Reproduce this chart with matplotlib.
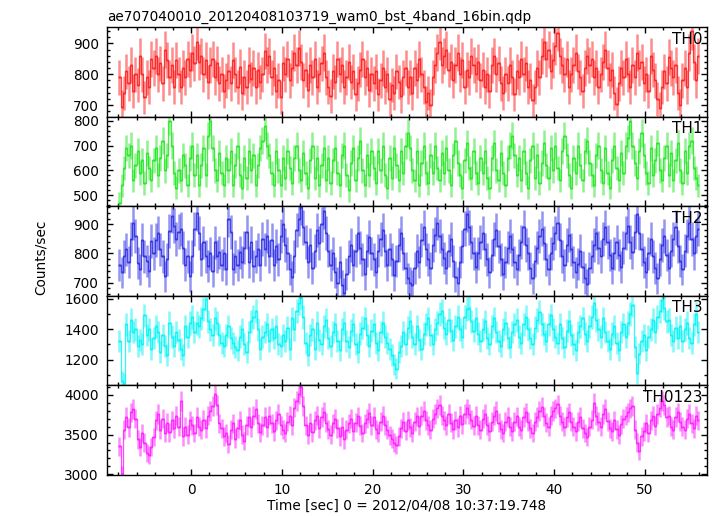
import numpy as np
import matplotlib
matplotlib.use("Agg")
import matplotlib.pyplot as plt
from matplotlib.ticker import MultipleLocator

title = "ae707040010_20120408103719_wam0_bst_4band_16bin.qdp"
xlabel = "Time [sec] 0 = 2012/04/08 10:37:19.748"
ylabel = "Counts/sec"
band_names = ["TH0", "TH1", "TH2", "TH3", "TH0123"]
band_colors = ["#ff1a1a", "#1ee61e", "#2a2ae6", "#00f5f5", "#ff1aff"]

time_start = -7.875
bin_width = 0.25

th0 = [
    790, 695, 740, 810, 770, 830, 745, 800, 765, 860, 800, 725, 790, 760, 850, 820,
    860, 800, 835, 770, 880, 845, 790, 830, 760, 845, 800, 760, 820, 790, 850, 815,
    870, 835, 905, 840, 860, 800, 845, 775, 830, 850, 790, 835, 770, 800, 745, 780,
    810, 770, 845, 800, 760, 825, 740, 790, 760, 830, 785, 820, 760, 815, 775, 800,
    875, 830, 860, 790, 820, 745, 780, 725, 835, 800, 850, 780, 820, 870, 830, 885,
    840, 780, 815, 750, 830, 790, 850, 760, 800, 835, 870, 790, 760, 730, 810, 775,
    850, 800, 830, 760, 790, 840, 775, 810, 735, 770, 815, 850, 790, 820, 750, 800,
    770, 810, 735, 780, 820, 760, 800, 720, 765, 740, 810, 775, 730, 790, 820, 760,
    790, 740, 820, 780, 850, 800, 760, 710, 740, 700, 790, 830, 870, 905, 830, 860,
    880, 815, 840, 780, 830, 870, 800, 845, 760, 815, 790, 860, 830, 800, 840, 780,
    815, 760, 800, 745, 830, 860, 800, 835, 770, 740, 800, 770, 830, 790, 735, 810,
    790, 850, 800, 835, 760, 780, 715, 760, 820, 790, 860, 905, 850, 880, 810, 845,
    890, 935, 860, 830, 800, 850, 760, 800, 830, 870, 810, 790, 745, 820, 860, 830,
    850, 790, 820, 760, 800, 840, 880, 820, 780, 815, 740, 705, 770, 820, 790, 850,
    800, 760, 830, 790, 870, 820, 840, 770, 800, 745, 860, 815, 780, 720, 690, 760,
    810, 770, 855, 820, 790, 830, 740, 700, 780, 820, 760, 870, 940, 840, 780, 860,
]

th1 = [
    470, 540, 610, 690, 660, 700, 560, 620, 680, 590, 640, 550, 670, 610, 560, 640,
    690, 580, 650, 720, 600, 660, 800, 700, 590, 530, 600, 560, 660, 620, 540, 650,
    700, 580, 660, 540, 620, 690, 580, 740, 800, 690, 600, 560, 670, 590, 540, 650,
    600, 680, 540, 620, 700, 580, 530, 650, 570, 680, 600, 660, 540, 620, 690, 720,
    780, 700, 660, 590, 540, 680, 600, 540, 650, 570, 680, 610, 550, 650, 700, 600,
    560, 670, 590, 530, 640, 700, 570, 650, 540, 620, 690, 560, 650, 550, 640, 690,
    590, 540, 660, 700, 580, 520, 630, 690, 560, 650, 720, 600, 540, 660, 580, 680,
    610, 550, 680, 600, 700, 580, 530, 650, 570, 690, 620, 560, 680, 590, 700, 750,
    690, 600, 560, 680, 540, 630, 700, 590, 550, 660, 590, 700, 610, 560, 670, 590,
    690, 600, 540, 660, 720, 630, 580, 530, 640, 710, 610, 570, 680, 590, 550, 650,
    590, 680, 570, 530, 650, 710, 600, 560, 670, 590, 540, 650, 700, 740, 660, 580,
    650, 560, 680, 590, 530, 640, 700, 570, 660, 550, 630, 710, 620, 570, 690, 600,
    700, 610, 560, 680, 740, 660, 580, 530, 650, 590, 700, 620, 560, 680, 720, 630,
    580, 540, 660, 700, 600, 550, 690, 590, 530, 640, 700, 610, 560, 670, 590, 700,
    730, 800, 700, 630, 570, 680, 750, 660, 590, 550, 690, 580, 640, 710, 600, 560,
    650, 700, 580, 670, 560, 640, 710, 600, 550, 680, 590, 700, 720, 610, 570, 540,
]

th2 = [
    760, 735, 790, 814, 770, 850, 906, 860, 767, 745, 848, 790, 775, 740, 843, 800,
    845, 870, 815, 790, 722, 780, 877, 930, 896, 850, 875, 884, 820, 762, 790, 722,
    790, 884, 940, 870, 780, 838, 790, 756, 800, 740, 838, 790, 804, 760, 800, 747,
    918, 873, 747, 790, 760, 805, 770, 820, 873, 770, 838, 756, 790, 814, 760, 850,
    814, 860, 790, 845, 760, 826, 780, 860, 900, 830, 800, 745, 720, 790, 880, 920,
    960, 890, 840, 770, 830, 750, 810, 880, 835, 900, 945, 870, 810, 760, 800, 735,
    700, 770, 690, 665, 730, 790, 830, 760, 810, 870, 820, 780, 730, 810, 855, 800,
    780, 735, 810, 850, 880, 810, 760, 815, 780, 725, 775, 830, 870, 800, 750, 715,
    700, 690, 750, 810, 770, 845, 890, 815, 780, 750, 830, 865, 905, 860, 815, 785,
    750, 810, 850, 775, 720, 700, 770, 825, 885, 935, 890, 840, 800, 755, 800, 840,
    870, 815, 780, 735, 795, 850, 880, 825, 780, 730, 770, 820, 860, 815, 770, 745,
    795, 840, 890, 830, 800, 750, 715, 775, 820, 860, 885, 835, 780, 745, 800, 835,
    870, 905, 845, 790, 760, 830, 865, 815, 770, 735, 765, 810, 755, 715, 695, 750,
    790, 830, 870, 820, 790, 850, 890, 840, 795, 750, 800, 840, 795, 755, 820, 870,
    895, 840, 805, 875, 935, 870, 815, 770, 735, 800, 850, 790, 750, 715, 780, 830,
    860, 795, 750, 810, 850, 890, 825, 775, 745, 810, 860, 905, 850, 800, 860, 885,
]

th3 = [
    1324, 1060, 1050, 1430, 1320, 1460, 1380, 1400, 1290, 1330, 1300, 1490, 1360, 1400, 1270, 1340,
    1420, 1380, 1250, 1360, 1290, 1230, 1440, 1350, 1290, 1380, 1330, 1270, 1230, 1420, 1350, 1440,
    1480, 1380, 1440, 1420, 1470, 1530, 1600, 1450, 1400, 1360, 1470, 1440, 1360, 1310, 1290, 1360,
    1420, 1340, 1310, 1280, 1260, 1350, 1400, 1300, 1250, 1380, 1450, 1480, 1520, 1400, 1270, 1350,
    1380, 1430, 1320, 1400, 1340, 1420, 1300, 1290, 1360, 1320, 1410, 1270, 1470, 1400, 1520, 1570,
    1610, 1480, 1310, 1230, 1360, 1400, 1270, 1440, 1330, 1300, 1420, 1460, 1340, 1290, 1380, 1430,
    1320, 1260, 1400, 1440, 1320, 1280, 1390, 1430, 1300, 1250, 1370, 1410, 1470, 1360, 1290, 1390,
    1430, 1310, 1260, 1380, 1440, 1350, 1310, 1270, 1230, 1170, 1140, 1250, 1290, 1380, 1300, 1410,
    1450, 1350, 1300, 1420, 1330, 1270, 1370, 1430, 1470, 1360, 1300, 1400, 1440, 1500, 1520, 1410,
    1370, 1460, 1390, 1330, 1420, 1480, 1400, 1350, 1480, 1530, 1540, 1450, 1390, 1470, 1370, 1320,
    1400, 1450, 1340, 1300, 1420, 1470, 1380, 1320, 1290, 1400, 1440, 1340, 1280, 1380, 1430, 1460,
    1350, 1310, 1430, 1480, 1400, 1340, 1300, 1410, 1460, 1510, 1430, 1370, 1320, 1430, 1490, 1400,
    1350, 1310, 1430, 1340, 1280, 1390, 1450, 1360, 1300, 1260, 1380, 1420, 1470, 1370, 1320, 1420,
    1480, 1570, 1460, 1400, 1350, 1470, 1380, 1320, 1270, 1370, 1420, 1310, 1260, 1380, 1430, 1350,
    1440, 1500, 1560, 1280, 1110, 1240, 1320, 1360, 1260, 1350, 1400, 1460, 1380, 1480, 1520, 1590,
    1540, 1450, 1460, 1360, 1320, 1410, 1340, 1420, 1320, 1400, 1440, 1340, 1310, 1430, 1500, 1380,
]

th0123 = [
    3350, 3000, 3560, 3720, 3590, 3780, 3820, 3700, 3440, 3340, 3520, 3400, 3270, 3240, 3340, 3470,
    3680, 3760, 3560, 3700, 3520, 3650, 3530, 3680, 3580, 3740, 3600, 3920, 3480, 3600, 3500, 3680,
    3620, 3520, 3720, 3600, 3560, 3690, 3580, 3740, 3800, 3860, 4010, 3870, 3640, 3580, 3480, 3520,
    3380, 3560, 3640, 3450, 3580, 3680, 3500, 3420, 3620, 3720, 3590, 3740, 3820, 3640, 3530, 3620,
    3720, 3590, 3740, 3640, 3540, 3680, 3760, 3620, 3560, 3520, 3660, 3740, 3620, 3840, 3920, 4010,
    4100, 3860, 3620, 3500, 3650, 3530, 3680, 3740, 3580, 3720, 3790, 3650, 3570, 3500, 3640, 3700,
    3580, 3480, 3600, 3440, 3560, 3640, 3700, 3540, 3650, 3730, 3610, 3520, 3640, 3700, 3770, 3620,
    3720, 3570, 3520, 3660, 3740, 3620, 3560, 3490, 3450, 3400, 3370, 3480, 3580, 3660, 3550, 3680,
    3590, 3520, 3660, 3730, 3610, 3740, 3800, 3680, 3620, 3560, 3700, 3760, 3830, 3870, 3740, 3680,
    3620, 3760, 3650, 3570, 3680, 3590, 3740, 3630, 3760, 3830, 3760, 3690, 3610, 3740, 3620, 3560,
    3700, 3760, 3620, 3540, 3660, 3740, 3800, 3650, 3570, 3520, 3660, 3720, 3600, 3540, 3660, 3730,
    3600, 3560, 3720, 3780, 3660, 3580, 3520, 3660, 3720, 3800, 3850, 3730, 3650, 3600, 3740, 3800,
    3830, 3880, 3740, 3660, 3600, 3720, 3780, 3660, 3600, 3540, 3660, 3720, 3580, 3520, 3470, 3600,
    3690, 3900, 3740, 3660, 3600, 3760, 3820, 3670, 3580, 3540, 3680, 3570, 3500, 3630, 3700, 3740,
    3780, 3830, 3860, 3560, 3400, 3290, 3480, 3540, 3640, 3520, 3680, 3740, 3610, 3760, 3840, 3920,
    3870, 3720, 3740, 3600, 3560, 3720, 3780, 3660, 3600, 3560, 3700, 3760, 3640, 3580, 3740, 3680,
]

series = [th0, th1, th2, th3, th0123]
y_limits = [(662, 952), (456, 815), (654, 962), (1031, 1617), (2990, 4120)]
y_major = [100, 100, 100, 200, 500]
y_minor = [20, 20, 20, 100, 100]
x_limits = (-9.25, 56.83)

W, H = 717, 516
fig = plt.figure(figsize=(W / 100, H / 100), dpi=100)

left_px, right_px = 107, 707
top_px, bottom_px = 27.3, 475.0
panel_h = (bottom_px - top_px) / len(series)

for k, (vals, name, col) in enumerate(zip(series, band_names, band_colors)):
    y = np.asarray(vals, dtype=float)
    t = time_start + bin_width * np.arange(len(y))
    err = np.sqrt(y / bin_width)
    ptop = top_px + k * panel_h
    ax = fig.add_axes([left_px / W, 1 - (ptop + panel_h) / H,
                       (right_px - left_px) / W, panel_h / H])
    ax.errorbar(t, y, yerr=err, xerr=bin_width / 2, fmt='none', ecolor=col,
                elinewidth=1.8, alpha=0.5, capsize=0)
    ax.step(t, y, where='mid', color=col, lw=0.9, alpha=0.8)
    ax.set_xlim(*x_limits)
    ax.set_ylim(*y_limits[k])
    ax.xaxis.set_major_locator(MultipleLocator(10))
    ax.xaxis.set_minor_locator(MultipleLocator(2))
    ax.yaxis.set_major_locator(MultipleLocator(y_major[k]))
    ax.yaxis.set_minor_locator(MultipleLocator(y_minor[k]))
    ax.tick_params(which='both', direction='in', top=True, right=True,
                   labelsize=9.8, width=1.0, pad=6)
    ax.tick_params(which='major', length=4)
    ax.tick_params(which='minor', length=2.2)
    for s in ax.spines.values():
        s.set_linewidth(1.0)
    if k < len(series) - 1:
        ax.tick_params(axis='x', labelbottom=False)
    ax.text(0.993, 0.95, name, transform=ax.transAxes, ha='right', va='top',
            fontsize=11)

fig.text(left_px / W, 1 - 20.7 / H, title, ha='left', va='baseline', fontsize=9.8)
fig.text((left_px + right_px) / 2 / W, 1 - 506 / H, xlabel, ha='center',
         va='center', fontsize=9.8)
fig.text(41 / W, 1 - 257 / H, ylabel, ha='center', va='center',
         rotation=90, fontsize=9.8)

fig.savefig("out.png", dpi=100)
